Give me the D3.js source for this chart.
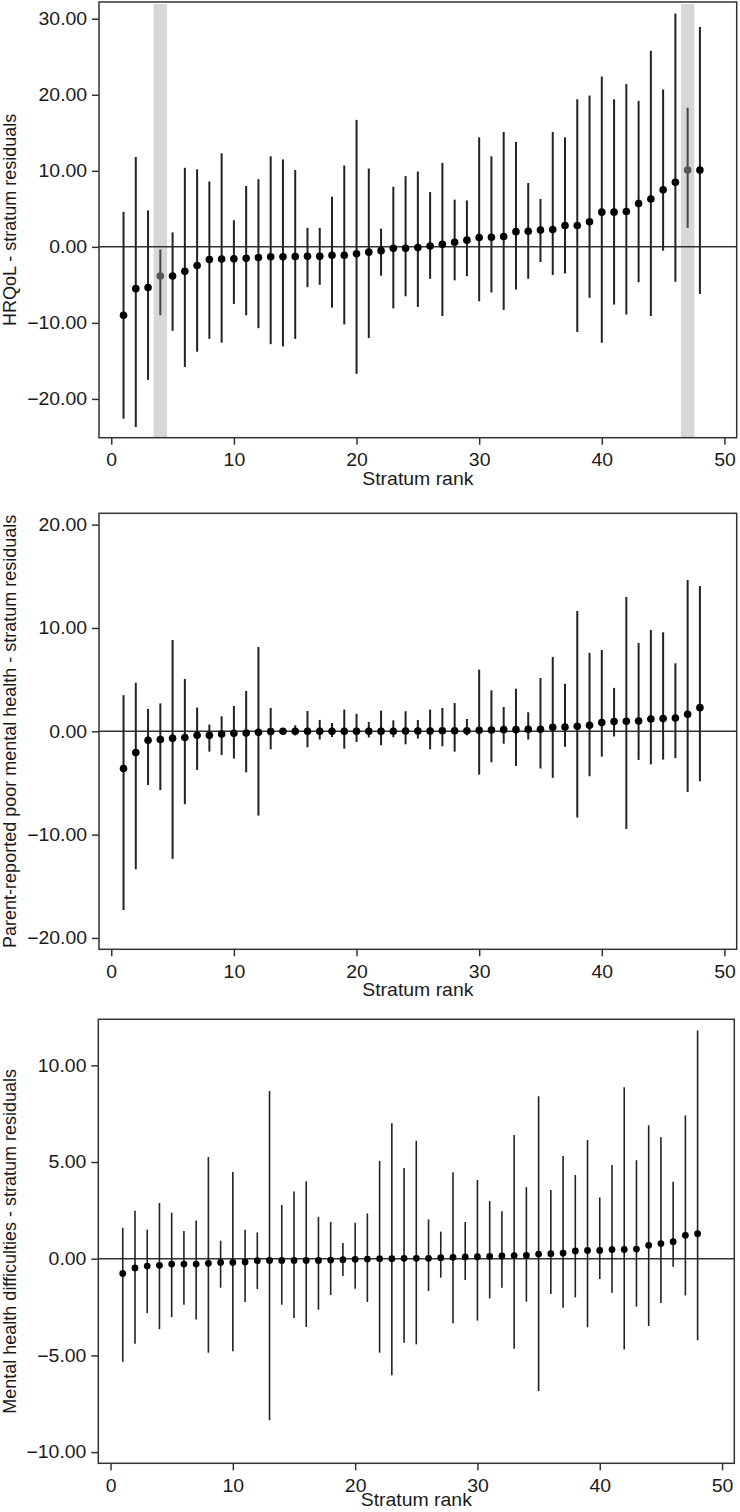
<!DOCTYPE html>
<html>
<head>
<meta charset="utf-8">
<script src="https://cdnjs.cloudflare.com/ajax/libs/d3/7.8.5/d3.min.js"></script>
<style>
body { margin: 0; background: #fff; }
svg text { font-family: "Liberation Sans", Arial, sans-serif; fill: #1a1a1a; }
</style>
</head>
<body>
<svg id="chart" width="740" height="1512"></svg>
<script>
// stratum ranks 1..48
var ranks = [1,2,3,4,5,6,7,8,9,10,11,12,13,14,15,16,17,18,19,20,21,22,23,24,
	25,26,27,28,29,30,31,32,33,34,35,36,37,38,39,40,41,42,43,44,45,46,47,48];

// panel 1 - HRQoL
var est1 = [-9.0,-5.5,-5.35,-3.85,-3.85,-3.2,-2.45,-1.67,-1.6,-1.58,-1.5,-1.4,-1.3,-1.3,-1.27,-1.25,
	-1.25,-1.1,-1.1,-0.9,-0.7,-0.5,-0.2,-0.2,-0.1,0.1,0.35,0.6,0.88,1.23,1.27,1.36,
	2.0,2.06,2.2,2.28,2.8,2.8,3.3,4.56,4.56,4.65,5.7,6.3,7.5,8.5,10.1,10.1];
var lo1 = [-22.6,-23.7,-17.5,-9.0,-11.05,-15.8,-13.8,-12.1,-12.6,-7.5,-9.0,-10.7,-12.8,-13.1,-12.1,-5.3,
	-5.0,-8.0,-10.2,-16.7,-12.0,-3.8,-8.1,-6.5,-7.9,-4.2,-9.1,-4.4,-3.86,-7.15,-6.0,-8.3,
	-5.6,-4.2,-2.0,-3.7,-3.5,-11.2,-6.7,-12.6,-7.6,-8.9,-4.65,-9.1,-0.5,-4.6,2.5,-6.2];
var hi1 = [4.6,11.8,4.8,-0.35,1.9,10.4,10.2,8.6,12.3,3.5,8.0,8.9,11.9,11.5,10.1,2.5,
	2.5,6.6,10.7,16.7,10.3,2.4,7.9,9.3,9.9,7.2,11.05,6.2,6.1,14.4,11.9,15.1,
	13.8,8.4,6.3,15.1,14.4,19.4,19.9,22.4,19.4,21.4,19.2,25.8,20.7,30.7,18.3,28.9];
var highlight1 = [4, 47];

// panel 2 - parent-reported poor mental health
var est2 = [-3.6,-2.06,-0.87,-0.8,-0.68,-0.6,-0.39,-0.39,-0.26,-0.2,-0.16,-0.1,-0.03,0,0,0,
	0,0,0,0,0,0,0,0.03,0.03,0.03,0.06,0.06,0.06,0.1,0.13,0.16,
	0.16,0.19,0.19,0.39,0.42,0.48,0.58,0.84,0.94,0.97,1.0,1.19,1.23,1.29,1.65,2.29];
var lo2 = [-17.3,-13.35,-5.2,-5.7,-12.35,-7.06,-3.74,-1.97,-2.3,-2.65,-3.97,-8.16,-1.74,-0.3,-0.4,-1.55,
	-0.8,-0.55,-1.68,-1.03,-0.6,-1.35,-0.58,-1.26,-0.7,-1.74,-1.45,-1.97,-0.39,-4.2,-3.0,-1.2,
	-3.35,-0.8,-3.6,-4.5,-1.5,-8.35,-4.35,-2.45,-0.5,-9.45,-2.77,-3.2,-2.74,-2.6,-5.87,-4.84];
var hi2 = [3.5,4.7,2.16,2.7,8.84,5.06,2.3,0.65,1.45,2.45,3.9,8.16,2.26,0.26,0.58,1.97,
	1.1,0.8,2.1,1.7,0.9,2.0,1.06,1.94,1.1,2.1,2.26,2.74,1.19,5.97,3.97,2.35,
	4.13,1.84,5.16,7.2,4.6,11.65,7.6,7.87,4.2,13.0,8.55,9.8,9.58,6.58,14.65,14.06];

// panel 3 - mental health difficulties
var est3 = [-0.76,-0.48,-0.38,-0.34,-0.28,-0.28,-0.28,-0.24,-0.19,-0.19,-0.17,-0.1,-0.09,-0.09,-0.09,-0.09,
	-0.09,-0.07,-0.05,-0.03,-0.02,0,0,0.02,0.02,0.02,0.05,0.07,0.09,0.1,0.12,0.14,
	0.16,0.17,0.24,0.26,0.29,0.4,0.43,0.43,0.47,0.48,0.5,0.69,0.78,0.88,1.21,1.29];
var lo3 = [-5.33,-4.4,-2.81,-3.64,-3.02,-2.38,-3.14,-4.86,-1.5,-4.78,-2.24,-1.57,-8.36,-2.38,-3.07,-3.53,
	-2.64,-1.88,-0.9,-1.55,-2.24,-4.86,-6.03,-4.34,-4.43,-1.67,-0.98,-3.34,-1.1,-3.2,-2.05,-1.5,
	-4.66,-2.22,-6.84,-1.83,-2.53,-2.0,-3.55,-1.05,-1.76,-4.69,-2.48,-3.48,-2.29,-0.41,-1.9,-4.22];
var hi3 = [1.6,2.48,1.5,2.88,2.38,1.43,1.97,5.26,0.93,4.48,1.5,1.36,8.67,2.78,3.47,4.0,
	2.17,1.9,0.81,1.86,2.34,5.05,7.0,4.69,6.1,2.03,1.4,4.47,1.9,4.07,2.98,2.45,
	6.4,3.7,8.4,3.55,5.31,4.33,6.14,3.17,4.84,8.86,5.09,6.9,6.28,3.98,7.41,11.8];

// tick labels
var xTicks = [0,10,20,30,40,50];
var yTicks1 = [-20,-10,0,10,20,30];
var yTicks2 = [-20,-10,0,10,20];
var yTicks3 = [-10,-5,0,5,10];

var xTitle = "Stratum rank";
var yTitle1 = "HRQoL - stratum residuals";
var yTitle2 = "Parent-reported poor mental health - stratum residuals";
var yTitle3 = "Mental health difficulties - stratum residuals";

var svg = d3.select("#chart");
var stretch = "scale(1.08,1)";

function drawPanel(p){
	var x = d3.scaleLinear().domain([-1, 51]).range([p.left, p.right]);
	var y = d3.scaleLinear().domain(p.ydom).range([p.bottom, p.top]);
	var g = svg.append("g");

	var rows = ranks.map(function(r, i){
		return {rank: r, est: p.est[i], lo: p.lo[i], hi: p.hi[i],
			hl: p.highlight.indexOf(r) >= 0};
	});

	// highlight bands
	g.selectAll(".band")
		.data(p.highlight)
		.enter()
		.append("rect")
		.attr("class", "band")
		.attr("x", function(d){ return x(d - 0.55); })
		.attr("y", p.top + 2)
		.attr("width", function(d){ return x(d + 0.55) - x(d - 0.55); })
		.attr("height", p.bottom - p.top - 2)
		.style("fill", "#d7d7d7");

	// zero line
	g.append("line")
		.attr("x1", p.left).attr("x2", p.right)
		.attr("y1", y(0)).attr("y2", y(0))
		.attr("stroke", "#333").attr("stroke-width", 1.5);

	// error bars
	g.selectAll(".bar")
		.data(rows)
		.enter()
		.append("line")
		.attr("class", "bar")
		.attr("x1", function(d){ return x(d.rank); })
		.attr("x2", function(d){ return x(d.rank); })
		.attr("y1", function(d){ return y(d.lo); })
		.attr("y2", function(d){ return y(d.hi); })
		.attr("stroke", function(d){ return d.hl ? "#444" : "#222"; })
		.attr("stroke-width", p.barWidth);

	// points
	g.selectAll(".pt")
		.data(rows)
		.enter()
		.append("circle")
		.attr("class", "pt")
		.attr("cx", function(d){ return x(d.rank); })
		.attr("cy", function(d){ return y(d.est); })
		.attr("r", p.radius)
		.style("fill", function(d){ return d.hl ? "#555" : "#000"; });

	// frame
	g.append("rect")
		.attr("x", p.left).attr("y", p.top)
		.attr("width", p.right - p.left).attr("height", p.bottom - p.top)
		.style("fill", "none").style("stroke", "#333").style("stroke-width", 1.5);

	// axes
	var yAxis = g.append("g")
		.attr("transform", "translate(" + p.left + ",0)")
		.call(d3.axisLeft(y).tickValues(p.yticks).tickFormat(d3.format(".2f")).tickSize(7).tickPadding(4));
	var xAxis = g.append("g")
		.attr("transform", "translate(0," + p.bottom + ")")
		.call(d3.axisBottom(x).tickValues(xTicks).tickSize(7).tickPadding(9));

	[yAxis, xAxis].forEach(function(a){
		a.select(".domain").remove();
		a.selectAll(".tick line").attr("stroke", "#333").attr("stroke-width", 1.5);
		a.selectAll(".tick text")
			.style("font-size", "18px")
			.attr("fill", "#1a1a1a")
			.attr("transform", stretch);
	});

	// titles
	g.append("text")
		.attr("transform", "translate(" + ((p.left + p.right) / 2) + "," + (p.bottom + p.xTitleGap) + ") " + stretch)
		.attr("text-anchor", "middle")
		.style("font-size", "18px")
		.text(xTitle);

	g.append("text")
		.attr("transform", "translate(16," + ((p.top + p.bottom) / 2) + ") rotate(-90)")
		.attr("text-anchor", "middle")
		.style("font-size", "18px")
		.text(p.title);
}

drawPanel({left: 99, right: 736.7, top: 2, bottom: 437.7, ydom: [-25.1, 32.2],
	yticks: yTicks1, est: est1, lo: lo1, hi: hi1, highlight: highlight1,
	title: yTitle1, radius: 3.8, barWidth: 2, xTitleGap: 47});

drawPanel({left: 99, right: 736.7, top: 513.3, bottom: 949.3, ydom: [-21.1, 21.1],
	yticks: yTicks2, est: est2, lo: lo2, hi: hi2, highlight: [],
	title: yTitle2, radius: 3.8, barWidth: 2, xTitleGap: 47});

drawPanel({left: 98.3, right: 734.3, top: 1019.3, bottom: 1463.3, ydom: [-10.58, 12.38],
	yticks: yTicks3, est: est3, lo: lo3, hi: hi3, highlight: [],
	title: yTitle3, radius: 3.4, barWidth: 1.6, xTitleGap: 43});
</script>
</body>
</html>
